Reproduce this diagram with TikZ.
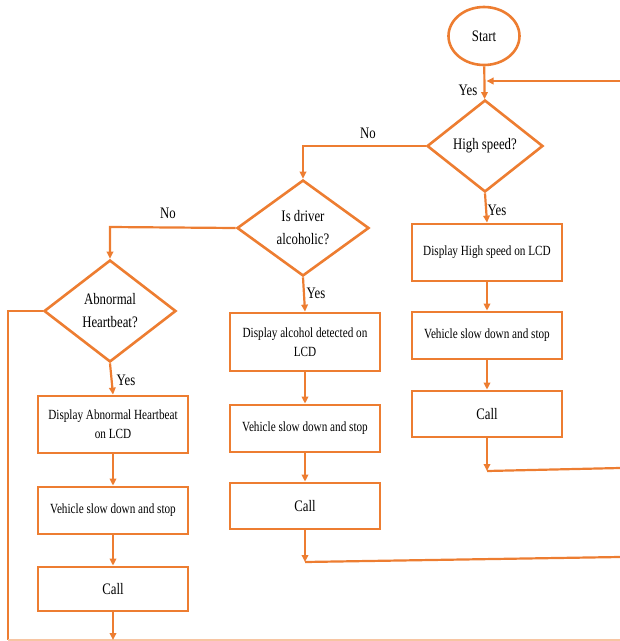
\documentclass[tikz,border=0pt]{standalone}
\usepackage{fontspec}
\setmainfont{Liberation Serif}[FakeStretch=0.8]
\usetikzlibrary{shapes.geometric,arrows.meta}
\definecolor{flow}{HTML}{ED7D31}
\tikzset{
  x=1pt,y=-1pt,
  boxnode/.style={draw=flow,line width=2.8pt,rectangle,minimum width=150pt,inner sep=0pt,align=center,font=\fontsize{14}{19}\selectfont},
  decnode/.style={draw=flow,line width=2.6pt,diamond,inner sep=0pt,align=center,font=\fontsize{16}{23}\selectfont},
  conn/.style={draw=flow,line width=2.2pt},
  arr/.style={conn,-{Triangle[length=7pt,width=6.5pt]}},
  lbl/.style={font=\fontsize{16}{19}\selectfont,inner sep=0pt}
}
\begin{document}
\begin{tikzpicture}
\useasboundingbox (0,0) rectangle (620,641);
% start
\node[draw=flow,line width=2.6pt,ellipse,minimum width=71pt,minimum height=58pt,inner sep=0pt,font=\fontsize{16}{19}\selectfont] (start) at (484,36) {Start};
% decisions
\node[decnode,minimum width=116pt,minimum height=92pt] (hs) at (485,146) {High speed?};
\node[decnode,minimum width=132pt,minimum height=96pt] (alc) at (303,228) {Is driver\\alcoholic?};
\node[decnode,minimum width=132pt,minimum height=102pt] (ab) at (110,311) {Abnormal\\Heartbeat?};
% right column
\node[boxnode,minimum height=57pt] (d3) at (487,252.5) {Display High speed on LCD};
\node[boxnode,minimum height=47pt] (v3) at (487,335.5) {Vehicle slow down and stop};
\node[boxnode,minimum height=46pt,font=\fontsize{16}{19}\selectfont] (c3) at (487,414) {Call};
% middle column
\node[boxnode,minimum height=58pt] (d2) at (305,342) {Display alcohol detected on\\LCD};
\node[boxnode,minimum height=47pt] (v2) at (305,428.5) {Vehicle slow down and stop};
\node[boxnode,minimum height=46pt,font=\fontsize{16}{19}\selectfont] (c2) at (305,506) {Call};
% left column
\node[boxnode,minimum height=57pt] (d1) at (113,424.5) {Display Abnormal Heartbeat\\on LCD};
\node[boxnode,minimum height=47pt] (v1) at (113,510.5) {Vehicle slow down and stop};
\node[boxnode,minimum height=44pt,font=\fontsize{16}{19}\selectfont] (c1) at (113,589) {Call};
% coordinates
\coordinate (loopR) at (620,81);
\coordinate (loopL) at (486.5,81);
\coordinate (k1) at (303,146);
\coordinate (k2) at (110,227);
\coordinate (k3) at (8,311);
\coordinate (k4) at (8,640);
\coordinate (k5) at (620,640);
\coordinate (e1) at (113,640);
\coordinate (m2) at (305,562);
\coordinate (r2) at (620,557);
\coordinate (m3) at (487,471);
\coordinate (r3) at (620,468);
% connectors
\draw[arr] (start) -- (hs);
\draw[arr] (loopR) -- (loopL);
\draw[arr] (hs.west) -- (k1) -- (alc.north);
\draw[arr] (alc.west) -- (k2) -- (ab.north);
\draw[conn] (ab.west) -- (k3) -- (k4);
\draw[draw=flow!45,line width=2pt] (k4) -- (k5);
\draw[arr] (hs.south) -- (d3.north);
\draw[arr] (d3) -- (v3);
\draw[arr] (v3) -- (c3);
\draw[arr] (c3.south) -- (m3);
\draw[conn] (m3) -- (r3);
\draw[arr] (alc.south) -- (d2.north);
\draw[arr] (d2) -- (v2);
\draw[arr] (v2) -- (c2);
\draw[arr] (c2.south) -- (m2);
\draw[conn] (m2) -- (r2);
\draw[arr] (ab.south) -- (d1.north);
\draw[arr] (d1) -- (v1);
\draw[arr] (v1) -- (c1);
\draw[arr] (c1.south) -- (e1);
% labels
\node[lbl] (y0) at (468,90) {Yes};
\node[lbl] (y1) at (497,210) {Yes};
\node[lbl] (y2) at (316,293) {Yes};
\node[lbl] (y3) at (126,380) {Yes};
\node[lbl] (n1) at (368,133) {No};
\node[lbl] (n2) at (168,213) {No};
\end{tikzpicture}
\end{document}
